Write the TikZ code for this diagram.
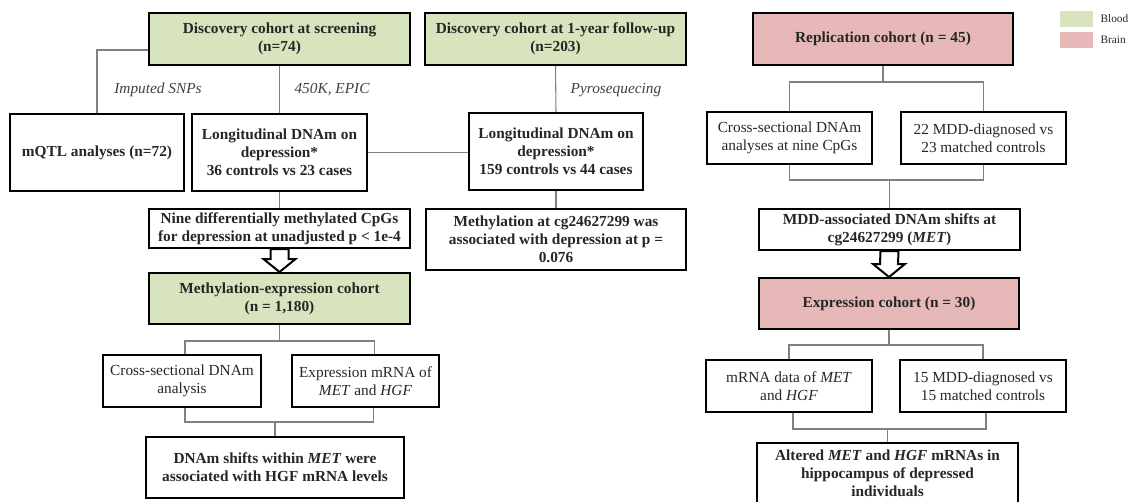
\documentclass[tikz,border=0pt]{standalone}
\usepackage{fontspec}
\setmainfont{Liberation Serif}
\usetikzlibrary{calc}

\newdimen\unitpx \unitpx=0.75pt
\newcommand{\boxfont}{\fontsize{11.5}{13.5}\selectfont}

\definecolor{bloodgreen}{RGB}{215,228,189}
\definecolor{brainpink}{RGB}{230,185,184}
\definecolor{linkgray}{RGB}{128,128,128}
\definecolor{labelgray}{RGB}{64,64,64}

% hollow block arrow from the bottom of #1 to the top of #2
\newcommand{\hollowarrow}[2]{%
    \draw[hollow] ($(#1.south)+(-9,0)$) -- ($(#2.north)+(-9,-13)$) -- ($(#2.north)+(-16,-13)$)
        -- (#2.north) -- ($(#2.north)+(16,-13)$) -- ($(#2.north)+(9,-13)$) -- ($(#1.south)+(9,0)$) -- cycle;}

\begin{document}
\begin{tikzpicture}[
    x=0.75pt, y=-0.75pt,
    font=\boxfont,
    box/.style={draw, line width=1.5pt, align=center, inner sep=0pt, text=black!85},
    boldbox/.style={box, font=\boxfont\bfseries},
    blood/.style={boldbox, fill=bloodgreen},
    brain/.style={boldbox, fill=brainpink},
    link/.style={draw=linkgray, line width=0.8pt},
    method/.style={font=\boxfont\itshape, text=labelgray},
    hollow/.style={draw, fill=white, line width=1.5pt, line join=miter},
    legendsq/.style={minimum width=33\unitpx, minimum height=16\unitpx, inner sep=0pt}
]
    \useasboundingbox (0,0) rectangle (1128,501);
    \clip (0,0) rectangle (1128,501);

    % Cohort boxes
    \node[blood, minimum width=261\unitpx, minimum height=52\unitpx] (scr) at (279.5,39) {Discovery cohort at screening\\(n=74)};
    \node[blood, minimum width=261\unitpx, minimum height=52\unitpx] (fup) at (555.5,39) {Discovery cohort at 1-year follow-up\\(n=203)};
    \node[brain, minimum width=260\unitpx, minimum height=52\unitpx] (rep) at (883,39) {Replication cohort (n = 45)};

    % Discovery analyses
    \node[boldbox, minimum width=174\unitpx, minimum height=77\unitpx] (mqtl) at (97,152.5) {mQTL analyses (n=72)};
    \node[boldbox, minimum width=175\unitpx, minimum height=77\unitpx] (long1) at (279.5,152.5) {Longitudinal DNAm on\\depression*\\36 controls vs 23 cases};
    \node[boldbox, minimum width=174\unitpx, minimum height=77\unitpx] (long2) at (556,151.5) {Longitudinal DNAm on\\depression*\\159 controls vs 44 cases};

    % Replication analyses
    \node[box, minimum width=165\unitpx, minimum height=52\unitpx] (csr) at (789.5,138) {Cross-sectional DNAm\\analyses at nine CpGs};
    \node[box, minimum width=165\unitpx, minimum height=52\unitpx] (mdd22) at (983.5,138) {22 MDD-diagnosed vs\\23 matched controls};

    % Findings
    \node[boldbox, minimum width=261\unitpx, minimum height=39\unitpx] (nine) at (279.5,228.5) {Nine differentially methylated CpGs\\for depression at unadjusted p < 1e-4};
    \node[boldbox, minimum width=260\unitpx, minimum height=61\unitpx] (meth) at (556,239.5) {Methylation at cg24627299 was\\associated with depression at p =\\0.076};
    \node[boldbox, minimum width=261\unitpx, minimum height=41\unitpx] (mddassoc) at (889.5,229.5) {MDD-associated DNAm shifts at\\cg24627299 (\textit{MET})};

    % Expression cohorts
    \node[blood, minimum width=261\unitpx, minimum height=51\unitpx] (mexp) at (279.5,298.5) {Methylation-expression cohort\\(n = 1,180)};
    \node[brain, minimum width=260\unitpx, minimum height=51\unitpx] (expc) at (889,303.5) {Expression cohort (n = 30)};

    \node[box, minimum width=158\unitpx, minimum height=52\unitpx] (csl) at (182,381) {Cross-sectional DNAm\\analysis};
    \node[box, minimum width=147\unitpx, minimum height=52\unitpx] (emrna) at (365.5,381) {Expression mRNA of\\\textit{MET} and \textit{HGF}};
    \node[box, minimum width=166\unitpx, minimum height=52\unitpx] (mrna) at (789,386) {mRNA data of \textit{MET}\\and \textit{HGF}};
    \node[box, minimum width=166\unitpx, minimum height=52\unitpx] (mdd15) at (983,386) {15 MDD-diagnosed vs\\15 matched controls};

    \node[boldbox, minimum width=258\unitpx, minimum height=61\unitpx] (res1) at (275,467.5) {DNAm shifts within \textit{MET} were\\associated with HGF mRNA levels};
    \node[boldbox, minimum width=261\unitpx, minimum height=61\unitpx] (res2) at (887.5,473.5) {Altered \textit{MET} and \textit{HGF} mRNAs in\\hippocampus of depressed\\individuals};

    % Discovery connectors
    \draw[link] ($(scr.west)+(0,11)$) -| (mqtl.north);
    \draw[link] (scr.south) -- (long1.north);
    \draw[link] (fup.south) -- (long2.north);
    \draw[link] (long1.east) -- (long1.east -| long2.west);
    \draw[link] (long1.south) -- (nine.north);
    \draw[link] (long2.south) -- (meth.north);
    \node[method] (snplabel) at (158,90) {Imputed SNPs};
    \node[method] (arraylabel) at (332,90) {450K, EPIC};
    \node[method] (pyrolabel) at (616,90) {Pyrosequecing};
    \hollowarrow{nine}{mexp}

    % Replication connectors
    \coordinate (repsplit) at ($(rep.south)+(0,16)$);
    \draw[link] (rep.south) -- (repsplit);
    \draw[link] (csr.north) |- (repsplit) -| (mdd22.north);
    \coordinate (repjoin) at ($(csr.south)+(0,15)$);
    \draw[link] (csr.south) -- (repjoin) -| (mdd22.south);
    \draw[link] (mddassoc.north) -- (mddassoc.north |- repjoin);
    \hollowarrow{mddassoc}{expc}

    % Methylation-expression connectors
    \coordinate (mexpsplit) at ($(mexp.south)+(0,16)$);
    \draw[link] (mexp.south) -- (mexpsplit);
    \draw[link] ($(csl.north)+(3,0)$) |- (mexpsplit) -| ($(emrna.north)+(9,0)$);
    \coordinate (mexpjoin) at ($(csl.south)+(3,14)$);
    \draw[link] ($(csl.south)+(3,0)$) -- (mexpjoin) -| ($(emrna.south)+(8,0)$);
    \draw[link] (res1.north) -- (res1.north |- mexpjoin);

    % Expression connectors
    \coordinate (expsplit) at ($(expc.south)+(0,15)$);
    \draw[link] (expc.south) -- (expsplit);
    \draw[link] (mrna.north) |- (expsplit) -| (mdd15.north);
    \coordinate (expjoin) at ($(mrna.south)+(4,16)$);
    \draw[link] ($(mrna.south)+(4,0)$) -- (expjoin) -| ($(mdd15.south)+(3,0)$);
    \draw[link] (res2.north) -- (res2.north |- expjoin);

    % Legend
    \node[legendsq, fill=bloodgreen] (lgblood) at (1076.5,19) {};
    \node[legendsq, fill=brainpink] (lgbrain) at (1076.5,40) {};
    \node[right, inner sep=0pt, xshift=7\unitpx, font=\fontsize{8.5}{10}\selectfont, text=black!85] (lgbloodtext) at (lgblood.east) {Blood};
    \node[right, inner sep=0pt, xshift=7\unitpx, font=\fontsize{8.5}{10}\selectfont, text=black!85] (lgbraintext) at (lgbrain.east) {Brain};
\end{tikzpicture}
\end{document}
